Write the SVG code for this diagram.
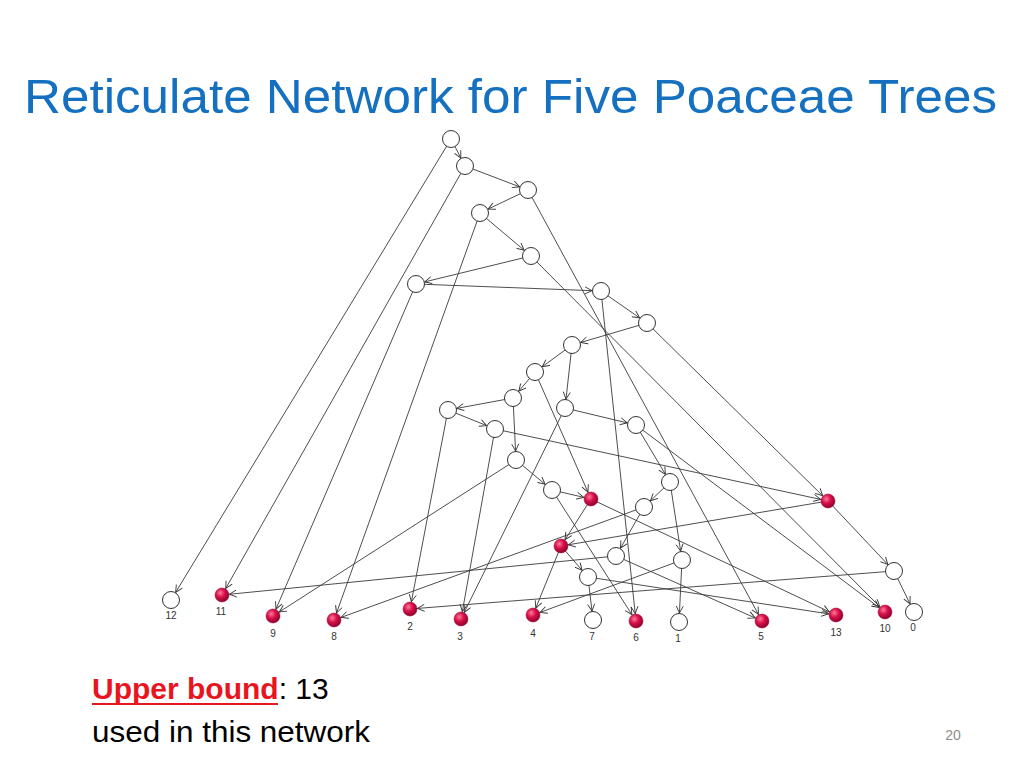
<svg xmlns="http://www.w3.org/2000/svg" width="1024" height="768" viewBox="0 0 1024 768">
<defs>
<radialGradient id="redball" cx="38%" cy="35%" r="70%">
<stop offset="0" stop-color="#ff7a98"/>
<stop offset="0.45" stop-color="#d8104a"/>
<stop offset="1" stop-color="#86002a"/>
</radialGradient>
<marker id="aw" markerUnits="userSpaceOnUse" markerWidth="20" markerHeight="20" viewBox="-10 -10 20 20" refX="9" refY="0" orient="auto" overflow="visible">
<path d="M-7,-3.5 L0,0 L-7,3.5" fill="none" stroke="#333" stroke-width="0.9"/>
</marker>
<marker id="ar" markerUnits="userSpaceOnUse" markerWidth="20" markerHeight="20" viewBox="-10 -10 20 20" refX="7.5" refY="0" orient="auto" overflow="visible">
<path d="M-7,-3.5 L0,0 L-7,3.5" fill="none" stroke="#333" stroke-width="0.9"/>
</marker>
</defs>
<style>
.e{stroke:#3a3a3a;stroke-width:0.9;fill:none}
.tw{marker-end:url(#aw)}
.tr{marker-end:url(#ar)}
.w{fill:#fff;stroke:#333;stroke-width:1}
.r{fill:url(#redball);stroke:#9a0030;stroke-width:0.5}
.lb{font-family:"Liberation Sans",Arial,sans-serif;font-size:10px;fill:#333;text-anchor:middle}
.title{font-family:"Liberation Sans",Arial,sans-serif;font-size:48px;fill:#1570C0}
.body{font-family:"Liberation Sans",Arial,sans-serif;font-size:30px;fill:#000}
</style>
<rect width="1024" height="768" fill="#fff"/>
<text class="title" x="24" y="113" textLength="973" lengthAdjust="spacingAndGlyphs">Reticulate Network for Five Poaceae Trees</text>

<g id="connectors">
<line class="e tw" x1="451" y1="139" x2="465" y2="166"/>
<line class="e tw" x1="451" y1="139" x2="171" y2="600"/>
<line class="e tw" x1="465" y1="166" x2="528" y2="190"/>
<line class="e tr" x1="465" y1="166" x2="222" y2="595"/>
<line class="e tw" x1="528" y1="190" x2="480" y2="213"/>
<line class="e tr" x1="528" y1="190" x2="762" y2="621"/>
<line class="e tw" x1="480" y1="213" x2="531" y2="256"/>
<line class="e tr" x1="480" y1="213" x2="334" y2="620"/>
<line class="e tw" x1="531" y1="256" x2="416" y2="284"/>
<line class="e tr" x1="531" y1="256" x2="885" y2="612"/>
<line class="e tw" x1="416" y1="284" x2="601" y2="291"/>
<line class="e tr" x1="416" y1="284" x2="273" y2="616"/>
<line class="e tw" x1="601" y1="291" x2="647" y2="323"/>
<line class="e tr" x1="601" y1="291" x2="636" y2="621"/>
<line class="e tw" x1="647" y1="323" x2="572" y2="345"/>
<line class="e tr" x1="647" y1="323" x2="828" y2="501"/>
<line class="e tw" x1="572" y1="345" x2="535" y2="372"/>
<line class="e tw" x1="572" y1="345" x2="565" y2="408"/>
<line class="e tw" x1="535" y1="372" x2="513" y2="398"/>
<line class="e tr" x1="535" y1="372" x2="591" y2="499"/>
<line class="e tw" x1="513" y1="398" x2="448" y2="410"/>
<line class="e tw" x1="513" y1="398" x2="516" y2="460"/>
<line class="e tw" x1="565" y1="408" x2="636" y2="425"/>
<line class="e tr" x1="565" y1="408" x2="461" y2="619"/>
<line class="e tw" x1="448" y1="410" x2="495" y2="429"/>
<line class="e tr" x1="448" y1="410" x2="410" y2="609"/>
<line class="e tr" x1="495" y1="429" x2="828" y2="501"/>
<line class="e tr" x1="495" y1="429" x2="461" y2="619"/>
<line class="e tw" x1="636" y1="425" x2="670" y2="482"/>
<line class="e tr" x1="636" y1="425" x2="885" y2="612"/>
<line class="e tw" x1="516" y1="460" x2="552" y2="490"/>
<line class="e tr" x1="516" y1="460" x2="273" y2="616"/>
<line class="e tr" x1="552" y1="490" x2="591" y2="499"/>
<line class="e tr" x1="552" y1="490" x2="636" y2="621"/>
<line class="e tw" x1="670" y1="482" x2="644" y2="507"/>
<line class="e tw" x1="670" y1="482" x2="682" y2="560"/>
<line class="e tw" x1="644" y1="507" x2="616" y2="556"/>
<line class="e tr" x1="644" y1="507" x2="334" y2="620"/>
<line class="e tr" x1="616" y1="556" x2="222" y2="595"/>
<line class="e tr" x1="616" y1="556" x2="762" y2="621"/>
<line class="e tw" x1="682" y1="560" x2="679" y2="622"/>
<line class="e tr" x1="682" y1="560" x2="533" y2="615"/>
<line class="e tw" x1="588" y1="577" x2="593" y2="620"/>
<line class="e tr" x1="588" y1="577" x2="836" y2="615"/>
<line class="e tw" x1="894" y1="571" x2="914" y2="612"/>
<line class="e tr" x1="894" y1="571" x2="410" y2="609"/>
<line class="e tr" x1="828" y1="501" x2="561" y2="546"/>
<line class="e tw" x1="828" y1="501" x2="894" y2="571"/>
<line class="e tr" x1="591" y1="499" x2="561" y2="546"/>
<line class="e tr" x1="591" y1="499" x2="836" y2="615"/>
<line class="e tr" x1="561" y1="546" x2="533" y2="615"/>
<line class="e tw" x1="561" y1="546" x2="588" y2="577"/>
</g>

<g id="node-A"><circle class="w" cx="451" cy="139" r="8.5"/></g>
<g id="node-B"><circle class="w" cx="465" cy="166" r="8.5"/></g>
<g id="node-C"><circle class="w" cx="528" cy="190" r="8.5"/></g>
<g id="node-D"><circle class="w" cx="480" cy="213" r="8.5"/></g>
<g id="node-E"><circle class="w" cx="531" cy="256" r="8.5"/></g>
<g id="node-F"><circle class="w" cx="416" cy="284" r="8.5"/></g>
<g id="node-G"><circle class="w" cx="601" cy="291" r="8.5"/></g>
<g id="node-H"><circle class="w" cx="647" cy="323" r="8.5"/></g>
<g id="node-I"><circle class="w" cx="572" cy="345" r="8.5"/></g>
<g id="node-J"><circle class="w" cx="535" cy="372" r="8.5"/></g>
<g id="node-K"><circle class="w" cx="513" cy="398" r="8.5"/></g>
<g id="node-L"><circle class="w" cx="565" cy="408" r="8.5"/></g>
<g id="node-M"><circle class="w" cx="448" cy="410" r="8.5"/></g>
<g id="node-N"><circle class="w" cx="495" cy="429" r="8.5"/></g>
<g id="node-O"><circle class="w" cx="636" cy="425" r="8.5"/></g>
<g id="node-P"><circle class="w" cx="516" cy="460" r="8.5"/></g>
<g id="node-Q"><circle class="w" cx="552" cy="490" r="8.5"/></g>
<g id="node-R"><circle class="r" cx="591" cy="499" r="7"/></g>
<g id="node-S"><circle class="w" cx="670" cy="482" r="8.5"/></g>
<g id="node-T"><circle class="w" cx="644" cy="507" r="8.5"/></g>
<g id="node-U"><circle class="r" cx="561" cy="546" r="7"/></g>
<g id="node-V"><circle class="w" cx="616" cy="556" r="8.5"/></g>
<g id="node-W"><circle class="w" cx="682" cy="560" r="8.5"/></g>
<g id="node-X"><circle class="w" cx="588" cy="577" r="8.5"/></g>
<g id="node-Y"><circle class="w" cx="894" cy="571" r="8.5"/></g>
<g id="node-Z"><circle class="r" cx="828" cy="501" r="7"/></g>

<g id="leaf-12"><circle class="w" cx="171" cy="600" r="8.5"/><text class="lb" x="171" y="619">12</text></g>
<g id="leaf-11"><circle class="r" cx="222" cy="595" r="7"/><text class="lb" x="221" y="615">11</text></g>
<g id="leaf-9"><circle class="r" cx="273" cy="616" r="7"/><text class="lb" x="273" y="637">9</text></g>
<g id="leaf-8"><circle class="r" cx="334" cy="620" r="7"/><text class="lb" x="334" y="640">8</text></g>
<g id="leaf-2"><circle class="r" cx="410" cy="609" r="7"/><text class="lb" x="410" y="630">2</text></g>
<g id="leaf-3"><circle class="r" cx="461" cy="619" r="7"/><text class="lb" x="460" y="640">3</text></g>
<g id="leaf-4"><circle class="r" cx="533" cy="615" r="7"/><text class="lb" x="533" y="637">4</text></g>
<g id="leaf-7"><circle class="w" cx="593" cy="620" r="8.5"/><text class="lb" x="592" y="640">7</text></g>
<g id="leaf-6"><circle class="r" cx="636" cy="621" r="7"/><text class="lb" x="636" y="641">6</text></g>
<g id="leaf-1"><circle class="w" cx="679" cy="622" r="8.5"/><text class="lb" x="678" y="642">1</text></g>
<g id="leaf-5"><circle class="r" cx="762" cy="621" r="7"/><text class="lb" x="761" y="640">5</text></g>
<g id="leaf-13"><circle class="r" cx="836" cy="615" r="7"/><text class="lb" x="836" y="636">13</text></g>
<g id="leaf-10"><circle class="r" cx="885" cy="612" r="7"/><text class="lb" x="885" y="632">10</text></g>
<g id="leaf-0"><circle class="w" cx="914" cy="612" r="8.5"/><text class="lb" x="913" y="631">0</text></g>

<text class="body" x="92" y="699"><tspan font-weight="bold" fill="#E8151F">Upper bound</tspan>: 13</text>
<line x1="92" y1="704" x2="278" y2="704" stroke="#E8151F" stroke-width="2"/>
<text class="body" x="92" y="742" textLength="278" lengthAdjust="spacingAndGlyphs">used in this network</text>
<text x="953" y="740" font-family="Liberation Sans, Arial, sans-serif" font-size="14" fill="#8c8c8c" text-anchor="middle">20</text>
</svg>
